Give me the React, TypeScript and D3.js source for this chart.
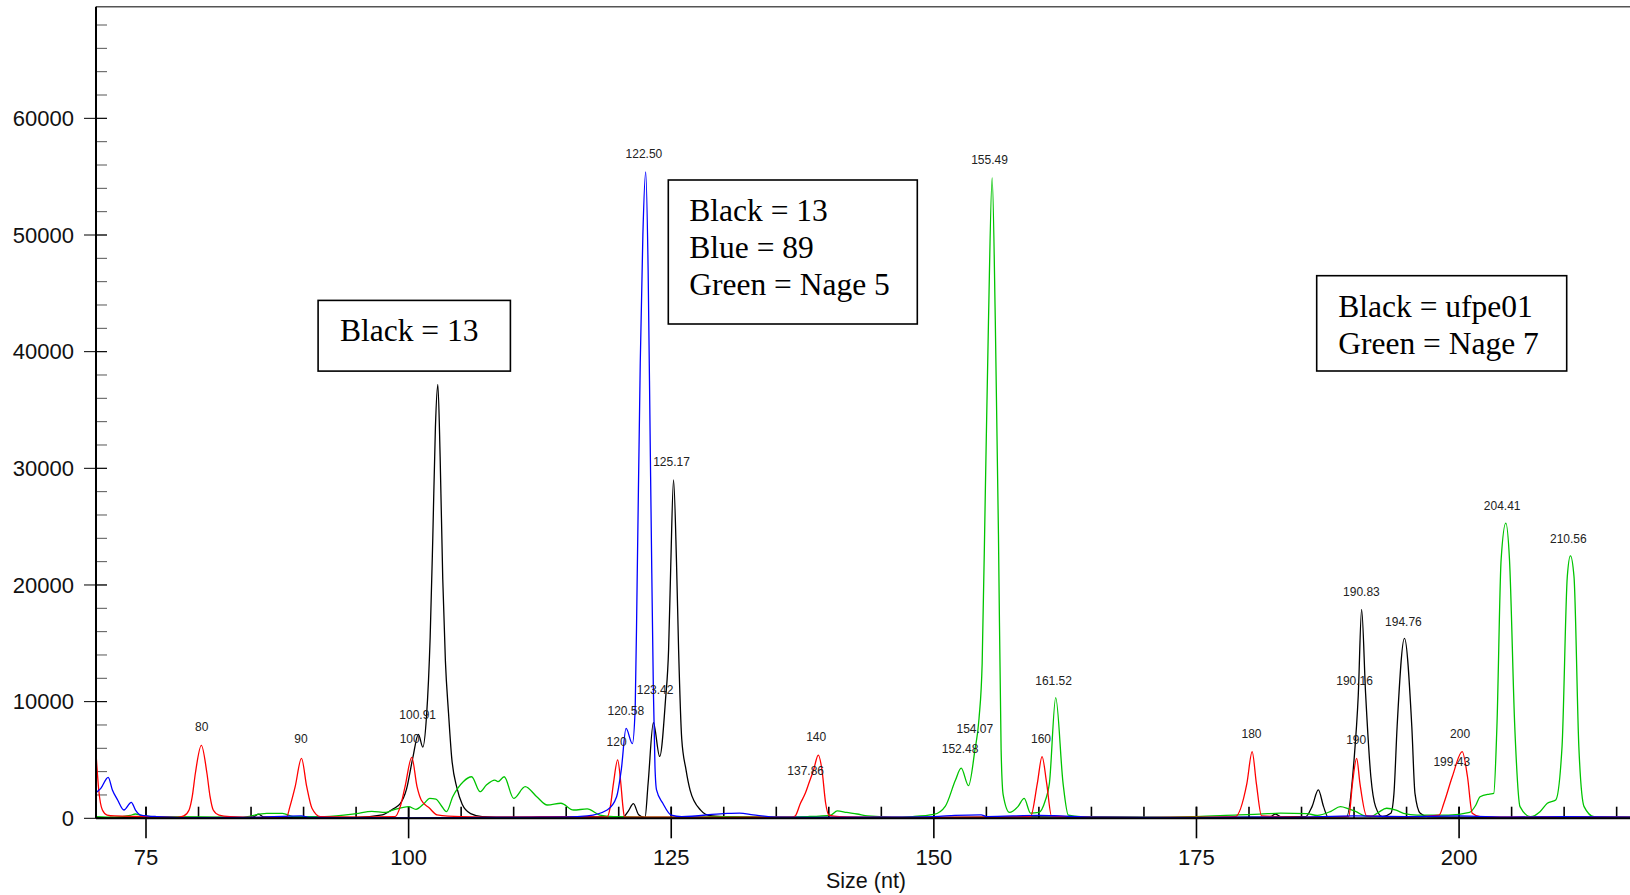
import React from 'react';
import * as d3 from 'd3';

// electropherogram traces: [size (nt), signal]
const blackTrace: [number, number][] = [
  [70.24, 50], [75, 100], [80, 80], [84.8, 60], [85.3, 150], [85.7, 350], [86.2, 120], [90, 50], [95, 80],
  [97.5, 300], [98.5, 800], [99.2, 1250], [99.8, 2500], [100.4, 5200], [100.93, 7200], [101.35, 6100],
  [101.7, 8700], [102.05, 15500], [102.3, 24000], [102.55, 33500], [102.78, 37200], [103.0, 31000],
  [103.25, 20500], [103.5, 13500], [103.8, 9000], [104.1, 5200], [104.6, 2600], [105.1, 1200], [105.9, 400],
  [107, 150], [110, 100], [115, 150], [118, 120], [120.4, 100], [120.9, 600], [121.4, 1250], [121.9, 300],
  [122.5, 50], [122.8, 3000], [123.3, 8200], [123.9, 5300], [124.45, 10100], [124.75, 14500], [124.95, 21500],
  [125.22, 29000], [125.5, 22000], [125.7, 14500], [126.0, 6800], [126.4, 4200], [126.8, 2400], [127.8, 700],
  [128.7, 220], [130, 150], [135, 80], [140, 100], [145, 60], [150, 80], [155, 100], [160, 120], [165, 80],
  [170, 60], [175, 80], [180, 100], [182, 120], [182.5, 370], [183, 150], [185.4, 150], [186.0, 1000],
  [186.6, 2430], [187.1, 1000], [187.5, 150], [189.3, 150], [190.0, 5000], [190.4, 10500], [190.72, 17900],
  [191.1, 10700], [191.6, 3560], [192.05, 1000], [192.7, 150], [193.5, 430], [193.8, 2140], [194.1, 7850],
  [194.8, 15420], [195.5, 7850], [195.8, 2140], [196.3, 430], [197, 150], [200, 100], [205, 80], [210, 100],
  [216.3, 80],
];

const redTrace: [number, number][] = [
  [70.24, 5600], [70.5, 2430], [70.85, 710], [71.3, 280], [72, 200], [75, 150], [78, 80], [78.6, 200],
  [79.1, 710], [79.4, 1850], [79.7, 3860], [80.27, 6250], [80.8, 3860], [81.1, 1850], [81.4, 710], [81.95, 280],
  [83, 150], [86, 80], [88.4, 140], [88.7, 1000], [89.2, 2710], [89.8, 5140], [90.3, 2710], [90.8, 860],
  [91.6, 140], [95, 100], [98.7, 140], [99.2, 1000], [99.66, 2710], [100.3, 5230], [100.8, 2710], [101.2, 1570],
  [102.0, 860], [102.7, 300], [105, 150], [110, 100], [115, 120], [118.9, 100], [119.2, 1000], [119.5, 3000],
  [119.9, 5000], [120.2, 3000], [120.4, 1000], [120.55, 100], [125, 100], [130, 80], [136.5, 100], [136.8, 200],
  [137.3, 1290], [137.76, 2140], [138.1, 3000], [138.55, 4140], [139.0, 5420], [139.35, 4140], [139.7, 1290],
  [140.0, 280], [141, 150], [145, 100], [150, 80], [155, 100], [159.2, 150], [159.85, 3000], [160.3, 5280],
  [160.74, 3000], [161.2, 200], [165, 100], [170, 80], [175, 100], [178.7, 150], [179.8, 3000], [180.3, 5710],
  [180.7, 3000], [181.2, 200], [185, 100], [189.5, 150], [189.85, 3000], [190.25, 5140], [190.56, 3000],
  [191.2, 200], [195, 100], [198.1, 280], [198.55, 1290], [199.35, 3560], [200.3, 5710], [200.8, 3560],
  [201.25, 430], [202, 150], [205, 100], [210, 150], [216.3, 100],
];

const blueTrace: [number, number][] = [
  [70.24, 2200], [70.7, 2570], [71.4, 3510], [71.8, 2430], [72.3, 1570], [72.9, 710], [73.6, 1370], [74.0, 710],
  [74.5, 280], [76, 150], [80, 50], [85, 80], [89.8, 200], [90.5, 80], [95, 50], [100, 30], [105, 60], [110, 80],
  [115, 100], [117, 200], [118.9, 710], [119.8, 1850], [120.25, 4200], [120.7, 7700], [121.3, 6400],
  [121.57, 9500], [121.75, 20000], [122.05, 39000], [122.3, 50000], [122.57, 55400], [122.8, 47000],
  [123.0, 32000], [123.15, 21000], [123.3, 11000], [123.45, 4500], [123.6, 2430], [124.2, 1290], [125.0, 280],
  [126, 150], [130, 400], [131.5, 450], [132.8, 300], [135, 100], [140, 80], [145, 100], [150, 150], [152, 250],
  [154.5, 300], [155, 150], [160, 250], [162, 200], [165, 100], [170, 80], [175, 60], [180, 100], [184, 80],
  [190, 200], [195, 150], [200, 200], [205, 100], [210, 150], [216.3, 100],
];

const greenTrace: [number, number][] = [
  [70.24, 150], [72, 100], [73.5, 250], [74, 370], [74.5, 250], [76, 120], [78, 100], [80, 120], [82, 100],
  [84, 80], [86.5, 430], [88, 430], [89, 150], [92, 150], [95, 400], [96.5, 600], [97.8, 500], [98.5, 700],
  [100, 1000], [100.7, 770], [101.5, 1300], [102, 1710], [102.6, 1650], [103.1, 1100], [103.6, 570],
  [104.2, 1850], [105.2, 3140], [106, 3560], [106.8, 2280], [107.4, 2850], [108.2, 3280], [108.5, 3140],
  [109.1, 3560], [110, 1710], [111.1, 2710], [112.2, 1850], [113.2, 1140], [114.5, 1290], [115.7, 710],
  [117.0, 800], [118.2, 280], [119.5, 150], [125, 100], [130, 150], [135, 100], [138, 150], [140.2, 280],
  [140.8, 630], [141.7, 500], [142.7, 370], [143.7, 200], [146, 100], [148, 150], [150, 330], [151.1, 1050],
  [152.05, 3260], [152.6, 4300], [153.3, 2800], [153.9, 5800], [154.3, 8560], [154.6, 13320], [154.9, 27970],
  [155.2, 42600], [155.55, 54900], [155.85, 42600], [156.15, 24300], [156.4, 6000], [156.6, 2000], [157.2, 500],
  [158.0, 1000], [158.6, 1710], [159.2, 450], [160.0, 500], [160.6, 1500], [161.0, 3000], [161.6, 10350],
  [162.3, 3000], [162.8, 280], [164, 150], [170, 100], [175, 150], [179, 300], [181, 350], [183, 450],
  [185.5, 400], [186.5, 250], [187.8, 600], [188.7, 1000], [189.5, 800], [190.2, 570], [191.0, 200],
  [191.6, 150], [192.3, 500], [193.1, 860], [194.0, 700], [194.7, 430], [196, 280], [199, 280], [201.0, 500],
  [201.6, 1140], [202.0, 1850], [202.9, 2080], [203.3, 2140], [203.6, 7850], [204.0, 22140], [204.45, 25300],
  [204.8, 22140], [205.3, 7850], [205.8, 1000], [206.8, 140], [207.7, 570], [208.4, 1290], [209.2, 1570],
  [209.8, 6140], [210.3, 20700], [210.6, 22500], [210.94, 20700], [211.4, 6140], [211.9, 1000], [212.85, 140],
  [215, 100], [216.3, 100],
];

// peak labels: text, position (nt), height of the labelled peak
const peakLabels: [string, number, number][] = [
  ['80', 80.3, 6270], ['90', 89.75, 5200], ['100', 100.1, 5250], ['100.91', 100.86, 7250],
  ['120', 119.8, 5000], ['120.58', 120.68, 7650], ['123.42', 123.46, 9430], ['122.50', 122.4, 55360],
  ['125.17', 125.03, 28990], ['140', 138.8, 5400], ['137.86', 137.8, 2500], ['152.48', 152.5, 4350],
  ['154.07', 153.9, 6060], ['155.49', 155.3, 54820], ['160', 160.2, 5270], ['161.52', 161.4, 10230],
  ['180', 180.24, 5660], ['190.83', 190.7, 17850], ['190.16', 190.05, 10200], ['190', 190.2, 5150],
  ['194.76', 194.7, 15280], ['200', 200.1, 5660], ['199.43', 199.3, 3230], ['204.41', 204.1, 25240],
  ['210.56', 210.4, 22390],
];

const xTicks = [75, 100, 125, 150, 175, 200];
const yTicks = [0, 10000, 20000, 30000, 40000, 50000, 60000];

const box1 = ['Black = 13'];
const box2 = ['Black = 13', 'Blue = 89', 'Green = Nage 5'];
const box3 = ['Black = ufpe01', 'Green = Nage 7'];

const W = 1630;
const H = 895;
const left = 96;
const top = 6.7;
const bottom = 818.3;

export default function App() {
  const x = d3.scaleLinear().domain([70.24, 216.27]).range([left, W]);
  const y = d3.scaleLinear().domain([0, 69570]).range([bottom, top]);
  const line = d3.line<[number, number]>()
    .x(d => x(d[0]))
    .y(d => y(d[1]))
    .curve(d3.curveMonotoneX);

  const xMinor = d3.range(75, 216, 5);
  const yMinor = d3.range(0, 69000, 2000);
  const sans = '"Liberation Sans", Arial, sans-serif';
  const serif = '"Liberation Serif", "Times New Roman", serif';

  const traces: [string, [number, number][]][] = [
    ['#000000', blackTrace],
    ['#00c400', greenTrace],
    ['#ff0000', redTrace],
    ['#0000ff', blueTrace],
  ];

  const textBox = (lines: string[], bx: number, by: number, bw: number, bh: number, tx: number, ty: number) => (
    <g>
      <rect x={bx} y={by} width={bw} height={bh} fill="#fff" stroke="#000" strokeWidth={1.6} />
      {lines.map((t, i) => (
        <text key={i} x={tx} y={ty + i * 37} fontFamily={serif} fontSize={31.5} fill="#000">{t}</text>
      ))}
    </g>
  );

  return (
    <div>
      <style>{'body{margin:0}'}</style>
      <svg width={W} height={H} style={{ display: 'block', background: '#fff' }}>
        <defs>
          <clipPath id="plot">
            <rect x={left} y={0} width={W - left} height={bottom + 4} />
          </clipPath>
        </defs>

        {/* frame */}
        <line x1={left} x2={W} y1={top} y2={top} stroke="#555" strokeWidth={1.5} />

        {/* y ticks */}
        {yMinor.map(v => (
          <line key={'ym' + v} x1={left} x2={left + 11} y1={y(v)} y2={y(v)} stroke="#555" strokeWidth={1} />
        ))}
        {yTicks.map(v => (
          <g key={'y' + v}>
            <line x1={left - 12} x2={left + 11} y1={y(v)} y2={y(v)} stroke="#000" strokeWidth={1} />
            <text x={74} y={y(v) + 7.8} textAnchor="end" fontFamily={sans} fontSize={22} fill="#111">{v}</text>
          </g>
        ))}

        {/* x ticks */}
        {xMinor.map(v => (
          <line key={'xm' + v} x1={x(v)} x2={x(v)} y1={bottom - 11.6} y2={bottom} stroke="#000" strokeWidth={1.6} />
        ))}
        {xTicks.map(v => (
          <g key={'x' + v}>
            <line x1={x(v)} x2={x(v)} y1={bottom - 11.6} y2={bottom + 20} stroke="#000" strokeWidth={1.6} />
            <text x={x(v)} y={864.5} textAnchor="middle" fontFamily={sans} fontSize={22} fill="#111">{v}</text>
          </g>
        ))}
        <text x={866} y={888} textAnchor="middle" fontFamily={sans} fontSize={21.5} fill="#111">Size (nt)</text>

        {/* traces */}
        <g clipPath="url(#plot)">
          {traces.map(([c, d]) => (
            <path key={c} d={line(d) || ''} fill="none" stroke={c} strokeWidth={1.3} />
          ))}
        </g>

        {/* axes */}
        <line x1={left} x2={left} y1={top} y2={bottom} stroke="#000" strokeWidth={2} />
        <line x1={left} x2={W} y1={bottom} y2={bottom} stroke="#000" strokeWidth={2} />

        {/* peak labels */}
        {peakLabels.map(([t, at, h]) => (
          <text key={t} x={x(at)} y={y(h) - 14.3} textAnchor="middle" fontFamily={sans} fontSize={12} fill="#222">{t}</text>
        ))}

        {/* annotation boxes */}
        {textBox(box1, 318.1, 300.4, 192.3, 70.7, 340, 341)}
        {textBox(box2, 668.3, 180, 249, 144, 689.3, 220.5)}
        {textBox(box3, 1316.7, 275.7, 250, 95.3, 1338.3, 316.7)}
      </svg>
    </div>
  );
}
